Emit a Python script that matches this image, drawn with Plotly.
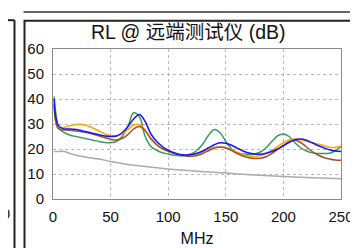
import plotly.graph_objects as go

freq = [1, 2, 4, 6, 8, 10, 15, 20, 25, 30, 35, 40, 45, 50, 55, 60, 65, 70, 75, 80,
        85, 90, 95, 100, 105, 110, 115, 120, 125, 130, 135, 140, 145, 150, 155, 160,
        165, 170, 175, 180, 185, 190, 195, 200, 205, 210, 215, 220, 225, 230, 235,
        240, 245, 250]

green = [41, 36, 30, 28, 27, 26.5, 25.5, 25, 24.5, 24, 23.5, 23, 22.6, 22.5, 23, 25,
         29, 34.5, 33, 25, 21, 19.5, 18.5, 18, 17.5, 17.3, 17.4, 18, 19.5, 22, 25.5,
         27.8, 26.5, 23, 20, 18.5, 18, 17.8, 18, 18.8, 20.5, 23, 25.3, 26, 25, 22.5,
         20.5, 19.2, 18.5, 18.2, 18.2, 18.3, 19.3, 21]

blue = [40, 34, 30, 28.8, 28.3, 28, 28, 27.8, 27.3, 26.8, 26.2, 25.7, 25.2, 25, 25.2,
        26.5, 29, 32, 33.8, 31, 26, 23, 21, 19.5, 18.5, 17.8, 17.6, 17.8, 18.3, 19.2,
        20.5, 21.7, 22.5, 22.3, 21.5, 20.3, 19.2, 18.4, 18, 17.9, 18.3, 19, 20, 21.3,
        22.7, 23.7, 24, 23.5, 22.5, 21.4, 20.5, 19.7, 19.2, 19]

orange = [37, 32, 29, 28.5, 28.5, 28.7, 29.3, 29.8, 29.8, 29.3, 28.3, 27.2, 26, 25.3,
          25.2, 26, 27.8, 29.6, 29.8, 27.5, 24, 21.5, 20, 19, 18.2, 17.7, 17.5, 17.6,
          18, 18.8, 19.8, 20.6, 20.8, 20.5, 19.7, 18.7, 17.8, 17.2, 17, 17.3, 18.2,
          19.5, 21, 22.5, 23.6, 24, 23.7, 23.1, 22.5, 22, 21.4, 20.7, 20.6, 21.2]

brown = [38, 32, 28.5, 27.8, 27.6, 27.6, 27.5, 27.2, 26.9, 26.5, 25.9, 25.2, 24.5,
         23.9, 23.6, 24.2, 25.8, 28, 29, 27.3, 24.2, 21.8, 20.2, 19.2, 18.3, 17.6,
         17.2, 17.1, 17.4, 18.2, 19.3, 20.4, 20.8, 20.4, 19.4, 18.2, 17.2, 16.5, 16.2,
         16.3, 16.9, 18.2, 19.8, 21.4, 22.8, 23.5, 22.6, 20.8, 19, 17.6, 16.6, 16,
         15.6, 15.5]

limit_freq = [1, 5, 10, 15, 20, 30, 40, 50, 60, 70, 80, 100, 125, 150, 175, 200, 225, 250]
limit = [19, 19, 19, 18.2, 17.5, 16.6, 16, 15, 14.2, 13.5, 13, 12, 11.1, 10.4, 9.6, 9,
         8.5, 8.1]

x_ticks = [0, 50, 100, 150, 200, 250]
y_ticks = [0, 10, 20, 30, 40, 50, 60]

W, H = 358, 248
ML, MR, MT, MB = 45, 25, 41, 43
PW, PH = W - ML - MR, H - MT - MB


def px(x):
    return (x - ML) / PW


def py(y):
    return (H - MB - y) / PH


FONT = "Liberation Sans, Arial, Noto Sans CJK SC, sans-serif"

fig = go.Figure()
fig.add_trace(go.Scatter(x=limit_freq, y=limit, mode="lines", line=dict(color="#ababab", width=1.5, shape="spline")))
fig.add_trace(go.Scatter(x=freq, y=green, mode="lines", line=dict(color="#3a9a5e", width=1.5, shape="spline")))
fig.add_trace(go.Scatter(x=freq, y=orange, mode="lines", line=dict(color="#ffa500", width=1.5, shape="spline")))
fig.add_trace(go.Scatter(x=freq, y=brown, mode="lines", line=dict(color="#a0522d", width=1.5, shape="spline")))
fig.add_trace(go.Scatter(x=freq, y=blue, mode="lines", line=dict(color="#1515ff", width=1.5, shape="spline")))

shapes = [
    # panel frame
    dict(type="rect", xref="paper", yref="paper", x0=px(16.5), x1=px(351.5), y0=py(260), y1=py(10),
         line=dict(color="#222222", width=2)),
    # neighbour panel edge on the left
    dict(type="line", xref="paper", yref="paper", x0=px(-2), x1=px(6.5), y0=py(9.5), y1=py(9.5),
         line=dict(color="#222222", width=2)),
    dict(type="line", xref="paper", yref="paper", x0=px(6.5), x1=px(6.5), y0=py(9.5), y1=py(260),
         line=dict(color="#222222", width=2)),
    # neighbour panel bottom edge on top
    dict(type="line", xref="paper", yref="paper", x0=px(15.5), x1=px(353), y0=py(0.5), y1=py(0.5),
         line=dict(color="#666666", width=2)),
]

fig.update_layout(
    width=W, height=H,
    margin=dict(l=ML, r=MR, t=MT, b=MB),
    paper_bgcolor="white", plot_bgcolor="white",
    showlegend=False,
    font=dict(family=FONT, size=15, color="#111111"),
    title=dict(text="RL @ 远端测试仪 (dB)", x=px(190), xanchor="center",
               y=1 - 24 / H, yanchor="middle", yref="container",
               font=dict(family=FONT, size=19.5, color="#111111")),
    shapes=shapes,
    annotations=[dict(text="250", xref="paper", yref="paper", x=px(3.5), y=py(221),
                      xanchor="right", yanchor="middle", showarrow=False,
                      font=dict(family=FONT, size=15, color="#111111"))],
    xaxis=dict(range=[0, 250], tickvals=x_ticks, ticktext=[str(v) for v in x_ticks],
               showgrid=True, gridcolor="#b8b8b8", griddash="dot", gridwidth=1,
               showline=True, linecolor="#8a8a8a", linewidth=1, mirror=True,
               zeroline=False, ticks="", ticklabelstandoff=4,
               title=dict(text="MHz", font=dict(family=FONT, size=16), standoff=8)),
    yaxis=dict(range=[0, 60], tickvals=y_ticks, ticktext=[str(v) for v in y_ticks],
               showgrid=True, gridcolor="#b8b8b8", griddash="dot", gridwidth=1,
               showline=True, linecolor="#8a8a8a", linewidth=1, mirror=True,
               zeroline=False, ticks="", ticklabelstandoff=5),
)

fig.write_html("out.html")
